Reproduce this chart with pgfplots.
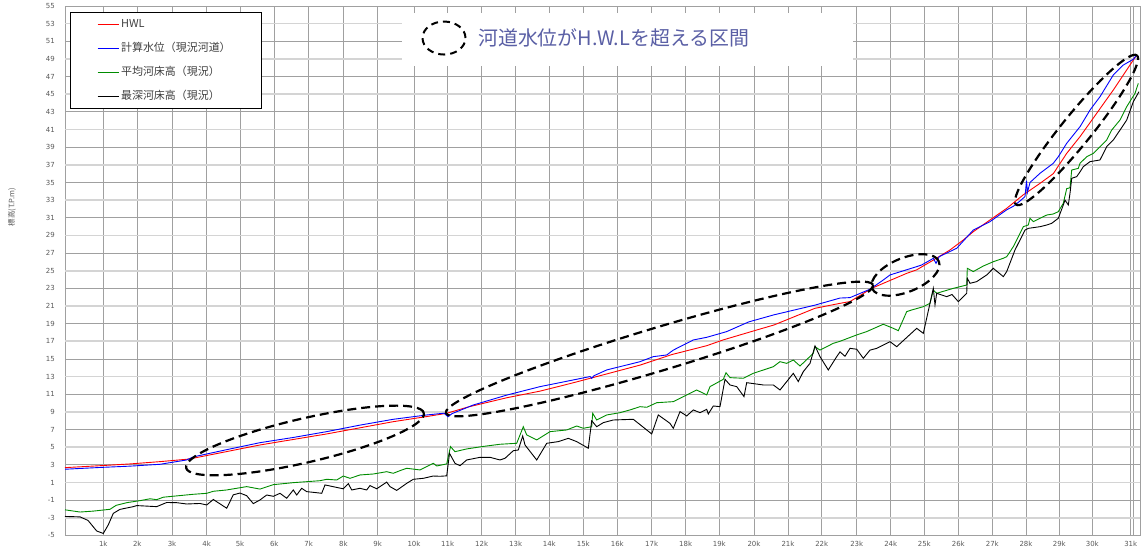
\documentclass[border=0pt]{standalone}
\usepackage{fontspec}
\setmainfont{DejaVu Sans}
\newfontfamily\cjk{Noto Sans CJK JP}
\usepackage{pgfplots}
\pgfplotsset{compat=1.18}
\usetikzlibrary{shapes.geometric}
\definecolor{tickgray}{RGB}{89,89,89}
\definecolor{legendgray}{RGB}{64,64,64}
\definecolor{gridD}{RGB}{160,160,160}
\definecolor{gridL}{RGB}{212,212,212}
\definecolor{hwl}{RGB}{255,0,0}
\definecolor{calc}{RGB}{0,0,255}
\definecolor{avgbed}{RGB}{0,140,0}
\definecolor{annot}{RGB}{90,95,165}
\begin{document}
\begin{tikzpicture}
\begin{axis}[
  scale only axis, width=1075bp, height=529.4bp,
  xmin=65, xmax=1140, ymin=-5, ymax=55,
  axis line style={gridD, line width=0.8bp},
  xtick={103.3,137.3,172,206.7,240,274.3,308.7,343.3,377.7,414,447.7,481.7,515.7,549.3,583.3,617.3,651.7,685.7,719.3,754,788,821.7,856.7,890.7,924.3,958.3,992.3,1026,1059.3,1092.3,1130.7,1133},
  xticklabels={1k,2k,3k,4k,5k,6k,7k,8k,9k,10k,11k,12k,13k,14k,15k,16k,17k,18k,19k,20k,21k,22k,23k,24k,25k,26k,27k,28k,29k,30k,31k,{}},
  ytick={-5,-1,...,55},
  extra y ticks={-3,1,...,53},
  extra y tick style={grid=major, major grid style={gridL, line width=1.6bp}},
  grid=major, major grid style={gridD, line width=0.8bp},
  major tick length=0pt,
  tick label style={font=\fontsize{7}{8}\selectfont, text=tickgray},
  /pgf/number format/assume math mode=true,
  yticklabel style={anchor=east, inner sep=0pt, xshift=-10bp},
  xticklabel style={anchor=north, inner sep=0pt, yshift=-6bp},
  ylabel={標高(T.P.m)},
  ylabel style={at={(axis description cs:-0.0493,0.62)}, anchor=center, font=\cjk\fontsize{7.5}{9}\selectfont, text=tickgray},
  legend style={at={(0.02977,0.98866)}, anchor=north west, draw=none, fill=none, inner sep=0pt, row sep=0pt,
    font=\cjk\fontsize{11}{13}\selectfont,
    nodes={inner xsep=2bp, inner ysep=0pt, minimum height=24bp, text height=8.5bp, text depth=2bp, text=legendgray}},
  legend cell align=left,
  legend image code/.code={\draw[#1] (0bp,0bp) -- (21bp,0bp);},
]
% HWL
\addplot[hwl, line width=0.9bp] coordinates {
(65,2.68) (100,2.9) (130,3.1) (160,3.36) (186.7,3.63) (193.3,3.75) (260,5.25) (326.7,6.5) (393.3,7.89) (426.7,8.47) (446.7,8.84)
(468,9.55) (506.7,10.6) (540,11.35) (573.3,12.3) (606.7,13.3) (640,14.3) (672,15.5) (706.7,16.5) (723,17.15) (756.7,18.28)
(774,18.85) (815,20.74) (840,21.3) (850,21.5) (871.7,23.0) (883.3,23.57) (906.7,24.7) (916.7,25.1) (933.3,26.2) (950,27.35)
(963.3,28.48) (973.3,29.42) (990,30.75) (1006.7,32.07) (1023.3,33.6) (1040,34.9) (1053.3,36.0) (1066.7,38.3) (1080,40.19)
(1096.7,42.84) (1113.3,45.48) (1126.7,47.75) (1136.7,49.45)};
\addlegendentry{HWL}
% computed water level
\addplot[calc, line width=0.9bp] coordinates {
(65,2.5) (100,2.7) (130,2.85) (160,3.06) (186.7,3.55) (193.3,3.9) (226,4.7) (260,5.51) (293.3,6.1) (326.7,6.76) (360,7.5)
(393.3,8.16) (426.7,8.65) (444,8.85) (448,8.45) (452,8.8) (473.3,9.78) (506.7,10.9) (540,11.86) (573.3,12.62) (590,13.0)
(591.7,12.8) (594,13.1) (606.7,13.75) (640,14.69) (653.3,15.26) (666.7,15.45) (673.3,16.0) (693.3,17.15) (706.7,17.45)
(726.7,18.1) (748.8,19.2) (774,20.0) (815,21.1) (840,21.9) (850,21.95) (870,22.9) (883.3,23.95) (890,24.52) (916.7,25.46)
(921.7,25.65) (933.3,26.4) (936,25.84) (939.3,26.6) (956.7,27.54) (973.3,29.61) (990,30.56) (1006.7,31.9) (1013.3,32.3)
(1020,32.9) (1025,33.4) (1026.5,35.2) (1027.5,33.9) (1030,35.0) (1040,36.04) (1053.3,37.17) (1058.3,37.92) (1066.7,39.44)
(1080,41.32) (1090,43.21) (1100,44.72) (1113.3,47.18) (1123.3,48.31) (1133.3,48.96) (1136.7,49.45)};
\addlegendentry{計算水位（現況河道）}
% average bed
\addplot[avgbed, line width=0.9bp] coordinates {
(65,-2.1) (80,-2.35) (93,-2.25) (110,-2.04) (116,-1.6) (126.7,-1.29) (140,-1.06) (150,-0.85) (156.7,-0.95) (163.3,-0.67)
(193.3,-0.34) (206.7,-0.23) (213.3,0.0) (226.7,0.15) (246.7,0.53) (260,0.25) (273.3,0.75) (293.3,0.98) (306.7,1.09)
(320,1.2) (326.7,1.36) (336.7,1.28) (343.3,1.73) (350,1.47) (360,1.85) (373.3,1.96) (386.7,2.22) (393.3,2.04) (400,2.34)
(406.7,2.61) (420,2.42) (433.3,3.17) (436.7,2.87) (446.7,3.1) (450.5,5.06) (455,4.49) (466.7,4.8) (481.7,5.06) (500,5.33)
(516.7,5.44) (523.3,7.32) (526.7,6.39) (536.7,5.82) (550,6.76) (566.7,6.95) (576.7,7.4) (583.3,7.14) (591.7,7.32)
(592.7,8.84) (596.7,8.08) (606.7,8.65) (620,8.91) (630,9.22) (640,9.59) (646.7,9.52) (656.7,10.04) (673.3,10.16)
(680,10.54) (696.7,11.48) (706.7,10.92) (710,11.86) (723.3,12.69) (726,13.44) (730,12.88) (743.3,12.81) (753.3,13.37)
(773.3,14.12) (780,14.69) (786.7,14.5) (793.3,14.88) (800,14.2) (813.3,15.64) (815,16.39) (820,16.0) (833.3,16.77)
(840,17.0) (856.7,17.72) (866.7,18.1) (883.3,18.93) (893.3,18.47) (898.3,18.2) (906.7,20.36) (911.7,20.55) (923.3,20.92)
(930,21.31) (933.3,22.8) (936.7,22.44) (953.3,23.0) (966.7,23.38) (967.3,25.27) (973.3,24.9) (983.3,25.53) (993.3,26.02)
(1003.3,26.41) (1006.7,26.59) (1013.3,27.72) (1023.3,29.99) (1028.3,30.18) (1030,30.94) (1033.3,30.56) (1046.7,31.31)
(1053.3,31.43) (1058.3,31.69) (1063.3,32.64) (1066.7,34.3) (1070,34.4) (1071.7,36.41) (1078.3,36.6) (1080,37.17)
(1086.7,37.92) (1093.3,38.3) (1106.7,39.81) (1111.7,40.94) (1120,42.08) (1126.7,43.59) (1135,45.1) (1138.3,46.24)};
\addlegendentry{平均河床高（現況）}
% deepest bed
\addplot[black, line width=0.9bp] coordinates {
(65,-2.85) (80,-2.9) (88,-3.3) (96.7,-4.5) (103.3,-4.78) (108.3,-3.8) (113.3,-2.5) (120,-2.05) (133.3,-1.74) (136.7,-1.62)
(156.7,-1.74) (166.7,-1.27) (176.7,-1.29) (186.7,-1.44) (200,-1.38) (206.7,-1.55) (213.3,-0.93) (226.7,-1.92) (233.3,-0.4)
(240,-0.2) (246.7,-0.5) (253.3,-1.4) (260,-0.98) (266.7,-0.42) (273.3,-0.57) (280,-0.23) (286.7,-0.79) (293.3,0.15)
(296.7,-0.42) (301.7,0.34) (306.7,-0.04) (316.7,-0.16) (321.7,-0.23) (325,0.72) (343.3,0.28) (348.3,0.87) (351.7,0.15)
(360,0.34) (366.7,0.15) (370,0.65) (376.7,0.28) (386.7,1.04) (390,0.53) (396.7,0.1) (406.7,0.9) (413.3,1.36) (423.3,1.47)
(433.3,1.73) (440,1.7) (446.7,1.75) (449.5,4.3) (455,3.17) (460,2.9) (466.7,3.55) (480,3.85) (490,3.85) (500,3.55)
(505,3.74) (513.3,4.6) (518.3,4.68) (522.7,6.27) (525,5.25) (536.7,3.55) (546.7,5.44) (558.3,5.63) (568.3,6.0)
(576.7,5.63) (588.3,4.88) (591.7,8.0) (596.7,7.32) (603.3,7.78) (613.3,8.08) (633.3,8.16) (651.7,6.5) (658.3,8.65)
(670,7.7) (673.3,7.14) (680,9.03) (686.7,8.54) (693.3,9.22) (700,8.91) (706.7,9.29) (708.3,8.76) (713.3,9.67) (720,9.59)
(725,12.69) (730,12.05) (736.7,11.86) (744,10.73) (746.7,12.31) (763.3,12.05) (773.3,12.05) (780,11.48) (793.3,13.37)
(798.3,12.43) (803.3,13.56) (810,14.5) (815,16.47) (820,15.26) (828.3,13.75) (836.7,15.26) (840,15.8) (845,15.3)
(850,16.2) (856.7,16.1) (863.3,15.07) (870,16.0) (876.7,16.2) (890,16.96) (896.7,16.39) (916.7,18.47) (923.3,17.9)
(933.3,23.0) (935,21.12) (936.7,22.44) (946.7,22.06) (952,22.3) (958.3,21.5) (966.7,22.44) (967.3,24.14) (970,23.57)
(976.7,23.76) (986.7,24.52) (993.3,25.27) (1003.3,24.33) (1006.7,24.9) (1015,27.35) (1025,29.61) (1028.3,29.8)
(1040,29.99) (1046.7,30.18) (1051.7,30.37) (1058.3,30.94) (1063.3,32.45) (1065,33.0) (1068.3,32.45) (1070,33.77)
(1071.7,35.47) (1076.7,35.66) (1080,36.2) (1083.3,36.79) (1090,37.36) (1100,37.55) (1106.7,39.06) (1113.3,39.81)
(1120,40.94) (1126.7,42.08) (1133.3,44.15) (1139,45.29)};
\addlegendentry{最深河床高（現況）}
% annotations
\draw[black, line width=0.9bp, fill=white] (axis cs:70,54.29) rectangle (axis cs:261,43.41);
\fill[white] (axis cs:402,54.21) rectangle (axis cs:853,48.2);
\node[ellipse, draw=black, line width=2bp, dash pattern=on 7bp off 5bp, minimum width=43bp, minimum height=33bp, inner sep=0pt] at (axis cs:444,51.37) {};
\node[anchor=west, inner sep=0pt, text=annot, font=\cjk\fontsize{20}{22}\selectfont] at (axis cs:478,51.37) {河道水位がH.W.Lを超える区間};
\tikzset{hwlell/.style={ellipse, draw=black, line width=2.2bp, dash pattern=on 9bp off 5bp, inner sep=0pt}}
\node[hwlell, minimum width=244bp, minimum height=44bp, rotate=13] at (axis cs:305,5.76) {};
\node[hwlell, minimum width=446bp, minimum height=43bp, rotate=16.7] at (axis cs:659.5,16.13) {};
\node[hwlell, minimum width=72bp, minimum height=34bp, rotate=22] at (axis cs:905.5,24.52) {};
\node[hwlell, minimum width=192bp, minimum height=30bp, rotate=51] at (axis cs:1076.5,40.95) {};
\end{axis}
\pgfresetboundingbox
\useasboundingbox ([xshift=-65bp,yshift=-17.6bp]current axis.south west) rectangle ([xshift=1bp,yshift=6bp]current axis.north east);
\end{tikzpicture}
\end{document}
